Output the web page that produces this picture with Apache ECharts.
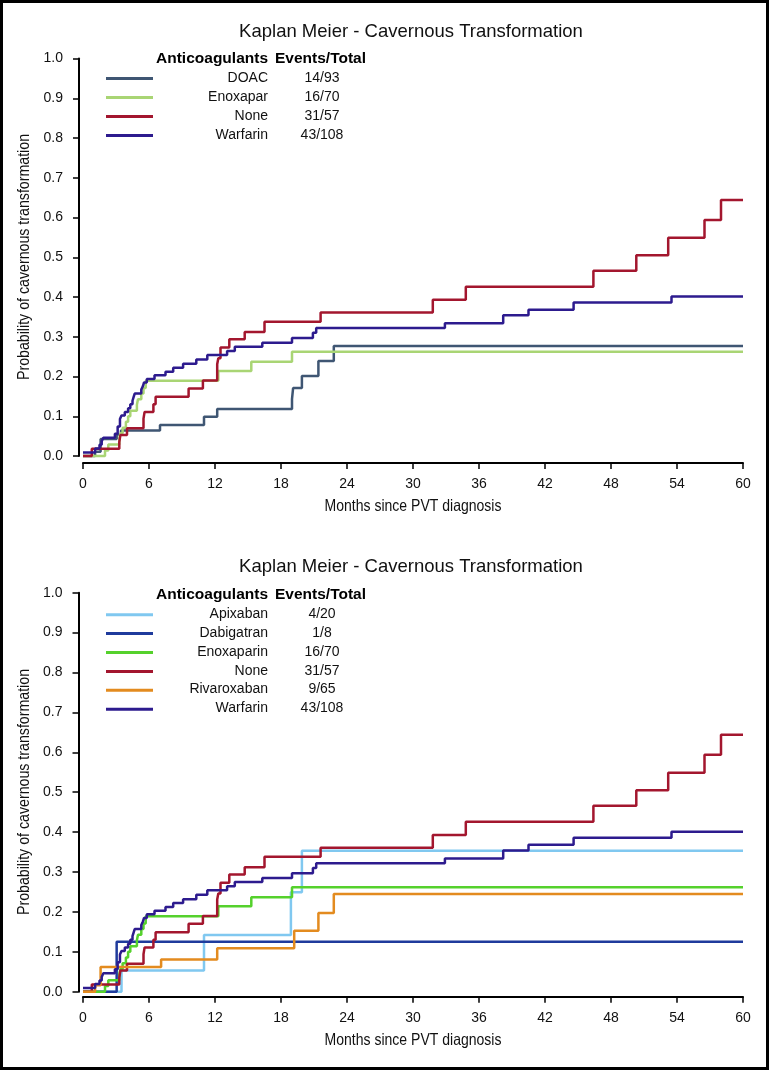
<!DOCTYPE html>
<html><head><meta charset="utf-8">
<script src="https://cdn.jsdelivr.net/npm/echarts@6/dist/echarts.min.js"></script>
<style>html,body{margin:0;padding:0;background:#fff}#c{width:769px;height:1070px}</style>
</head><body><div id="c"></div>
<script>
// ---- data (months since PVT diagnosis, cumulative probability) ----
const followUpEnd = 60;
const xTicks = [0, 6, 12, 18, 24, 30, 36, 42, 48, 54, 60];
const yTicks = [0.0, 0.1, 0.2, 0.3, 0.4, 0.5, 0.6, 0.7, 0.8, 0.9, 1.0];

const doac = [[0,0],[1.1,0.011],[1.6,0.043],[3.06,0.054],[3.45,0.064],[7.0,0.078],[11.0,0.099],[12.2,0.118],[19.0,0.143],[19.1,0.171],[19.9,0.201],[21.4,0.239],[22.8,0.277]];
const enoxaparin = [[0,0],[2.0,0.014],[2.3,0.029],[3.3,0.043],[3.4,0.057],[3.6,0.071],[3.9,0.086],[4.1,0.100],[4.3,0.114],[4.9,0.129],[5.0,0.143],[5.3,0.157],[5.5,0.171],[5.7,0.189],[12.3,0.214],[15.3,0.237],[19.0,0.262]];
const none = [[0,0],[0.8,0.018],[3.3,0.035],[3.4,0.053],[4.0,0.070],[5.5,0.094],[5.6,0.111],[6.4,0.130],[6.6,0.149],[9.6,0.170],[10.9,0.190],[12.2,0.231],[12.3,0.246],[12.5,0.273],[13.3,0.294],[14.7,0.312],[16.5,0.338],[21.6,0.361],[31.8,0.393],[34.8,0.426],[46.4,0.466],[50.3,0.505],[53.2,0.549],[56.5,0.594],[58.0,0.644]];
const warfarin = [[0,0.009],[1.1,0.019],[1.5,0.028],[1.7,0.037],[1.85,0.046],[2.9,0.056],[3.15,0.074],[3.36,0.093],[3.5,0.102],[3.8,0.111],[4.1,0.120],[4.3,0.130],[4.5,0.139],[4.6,0.148],[4.7,0.157],[5.3,0.167],[5.45,0.176],[5.55,0.185],[5.8,0.194],[6.5,0.203],[7.5,0.212],[8.2,0.222],[9.1,0.232],[10.3,0.243],[11.3,0.254],[13.1,0.264],[13.8,0.275],[16.3,0.285],[19.0,0.297],[20.9,0.310],[21.2,0.322],[32.9,0.334],[38.2,0.354],[40.5,0.368],[44.6,0.386],[53.5,0.401]];
const apixaban = [[0,0],[3.5,0.053],[11.0,0.142],[18.9,0.249],[19.9,0.353]];
const dabigatran = [[0,0],[3.06,0.125]];
const rivaroxaban = [[0,0],[1.1,0.016],[1.6,0.062],[7.1,0.081],[12.2,0.109],[19.2,0.153],[21.4,0.197],[22.8,0.245]];

const topNames = ['DOAC','Enoxapar','None','Warfarin'];
const topEvents = ['14/93','16/70','31/57','43/108'];
const topData = [doac, enoxaparin, none, warfarin];
const topColors = ['#3f5673','#a9d574','#a3162e','#2d1b8e'];

const botNames = ['Apixaban','Dabigatran','Enoxaparin','None','Rivaroxaban','Warfarin'];
const botEvents = ['4/20','1/8','16/70','31/57','9/65','43/108'];
const botData = [apixaban, dabigatran, enoxaparin, none, rivaroxaban, warfarin];
const botColors = ['#80c8f0','#1f3b9c','#55d12c','#a3162e','#e38b1f','#2d1b8e'];

const titleText = 'Kaplan Meier - Cavernous Transformation';
const xName = 'Months since PVT diagnosis';
const yName = 'Probability of cavernous transformation';
const headerLeft = 'Anticoagulants';
const headerRight = 'Events/Total';

// ---- build ----
function extend(d){ return d.concat([[followUpEnd, d[d.length-1][1]]]); }
const FONT = '"Liberation Sans", Arial, Helvetica, sans-serif';

function xAxisOf(gi, off){
  return { type:'value', gridIndex:gi, min:0, max:followUpEnd, interval:6, offset:off,
    axisLine:{show:true, onZero:false, lineStyle:{color:'#000', width:2}},
    axisTick:{show:true, length:6, lineStyle:{color:'#000', width:1.5}},
    axisLabel:{fontSize:14, color:'#111', fontFamily:FONT, margin:14,
      formatter:v => xTicks.includes(v) ? String(v) : ''},
    splitLine:{show:false}
  };
}
function yAxisOf(gi, off){
  return { type:'value', gridIndex:gi, min:0, max:1, interval:0.1, offset:off,
    axisLine:{show:true, onZero:false, lineStyle:{color:'#000', width:2}},
    axisTick:{show:true, length:6, lineStyle:{color:'#000', width:1.5}},
    axisLabel:{fontSize:14, color:'#111', fontFamily:FONT, margin:16,
      formatter:v => yTicks.find(t => Math.abs(t - v) < 1e-9).toFixed(1)},
    splitLine:{show:false}
  };
}
function seriesOf(names, data, colors, gi){
  return names.map((n,i)=>({
    name:n, type:'line', step:'end', xAxisIndex:gi, yAxisIndex:gi,
    data:extend(data[i]), showSymbol:false, symbol:'none', clip:false,
    lineStyle:{color:colors[i], width:2.5}, itemStyle:{color:colors[i]},
    animation:false, silent:true
  }));
}
function legendOf(names, top, pitch){
  return { orient:'vertical', left:101, top:top, itemWidth:47, itemHeight:3, itemGap:pitch-3,
    icon:'rect', data:names, selectedMode:false, itemStyle:{borderWidth:0},
    formatter: () => '', textStyle:{fontSize:1, lineHeight:1}
  };
}
function legendText(names, events, y0, pitch, hy){
  const els = [
    {type:'text', x:268, y:hy, style:{text:headerLeft, textAlign:'right', textVerticalAlign:'middle', font:'bold 15.5px ' + FONT, fill:'#000'}},
    {type:'text', x:275, y:hy, style:{text:headerRight, textAlign:'left', textVerticalAlign:'middle', font:'bold 15.5px ' + FONT, fill:'#000'}}
  ];
  names.forEach((n,i)=>{
    els.push({type:'text', x:268, y:y0 + i*pitch, style:{text:n, textAlign:'right', textVerticalAlign:'middle', font:'14px ' + FONT, fill:'#111'}});
    els.push({type:'text', x:322, y:y0 + i*pitch, style:{text:events[i], textAlign:'center', textVerticalAlign:'middle', font:'14px ' + FONT, fill:'#111'}});
  });
  return els;
}
// condensed axis titles (real text, horizontally compressed)
function axisTitles(xCy, yCy){
  return [
    {type:'text', x:413, y:xCy, scaleX:0.85, style:{text:xName, textAlign:'center', textVerticalAlign:'middle', font:'16.5px ' + FONT, fill:'#111'}},
    {type:'text', x:24, y:yCy, rotation:Math.PI/2, scaleX:0.86, style:{text:yName, textAlign:'center', textVerticalAlign:'middle', font:'16.5px ' + FONT, fill:'#111'}}
  ];
}

const chart = echarts.init(document.getElementById('c'), null, {renderer:'canvas'});
chart.setOption({
  backgroundColor:'#fff',
  animation:false,
  title:[
    {text:titleText, left:406, top:17, textAlign:'center', textStyle:{fontSize:18.5, fontWeight:'normal', color:'#111', fontFamily:FONT}},
    {text:titleText, left:406, top:552, textAlign:'center', textStyle:{fontSize:18.5, fontWeight:'normal', color:'#111', fontFamily:FONT}}
  ],
  grid:[
    {left:83, top:58.5, width:660, height:397.5},
    {left:83, top:592.7, width:660, height:399}
  ],
  xAxis:[xAxisOf(0,7), xAxisOf(1,5)],
  yAxis:[yAxisOf(0,4), yAxisOf(1,4.5)],
  legend:[legendOf(topNames, 71.9, 19), legendOf(botNames, 608.2, 18.9)],
  series: seriesOf(topNames, topData, topColors, 0).concat(seriesOf(botNames, botData, botColors, 1)),
  graphic: [
    {type:'rect', shape:{x:1.5, y:1.5, width:766, height:1067}, style:{fill:'none', stroke:'#000', lineWidth:3}, silent:true}
  ].concat(legendText(topNames, topEvents, 77.7, 19, 59), legendText(botNames, botEvents, 614, 18.9, 595),
           axisTitles(506, 257), axisTitles(1040, 792))
});
</script></body></html>
